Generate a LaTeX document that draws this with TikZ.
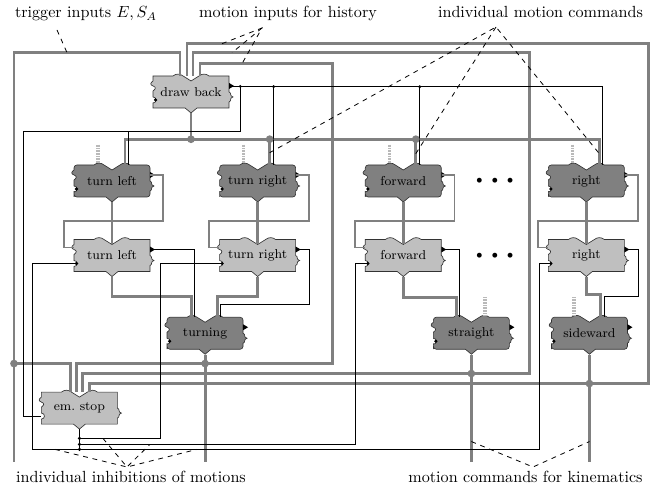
\documentclass[tikz,border=0pt]{standalone}
\usepackage{tikz}
\usetikzlibrary{positioning,calc,backgrounds}

\tikzset{
  pics/behmod/.style 2 args={code={
    \draw[draw=black!80, line width=0.4pt, fill=#1]
      (-38,-11) -- (-38,-13) [rounded corners=#2] -- (-38,-16) -- (-26,-16) [sharp corners]
      -- (-18,-16) .. controls (-15,-18.5) and (-11,-18.5) .. (-8,-16) -- (0,-11) -- (8,-16)
      .. controls (11,-18.5) and (15,-18.5) .. (18,-16) -- (26,-16) [rounded corners=#2]
      -- (38,-16) -- (38,-10) [sharp corners] -- (38,0)
      .. controls (41,1) and (38,4) .. (42,5) .. controls (38,6) and (41,9) .. (38,10)
      -- (38,12) [rounded corners=#2] -- (38,16) -- (26,16) [sharp corners]
      -- (6,16) -- (0,21) -- (-6,16) -- (-26,16) [rounded corners=#2] -- (-38,16) -- (-38,13) [sharp corners]
      -- (-38,11) .. controls (-34,11) and (-34,5) .. (-38,5) -- (-38,-1)
      .. controls (-35,-3) and (-35,-5) .. (-38,-6) .. controls (-41,-7) and (-41,-9) .. (-38,-11) -- cycle;
  }},
  pics/behports/.style={code={
    \fill (38,-9) -- (43,-6) -- (38,-3) -- cycle;
    \fill (-35.5,8) circle (1.1pt);
  }}
}

\begin{document}
\begin{tikzpicture}[x=0.62pt, y=-0.62pt,
  node distance=26pt and 42.8pt,
  module/.style={minimum width=47.1pt, minimum height=19.8pt, inner sep=0pt, font=\footnotesize},
  lbl/.style={anchor=base, inner sep=0pt},
  motion/.style={draw=gray, line width=1.8pt},
  stim/.style={draw=gray, line width=1.1pt},
  inh/.style={draw=black, line width=0.5pt},
  hatch/.style={draw=gray!55, line width=2.2pt, dash pattern=on 0.5pt off 0.5pt},
  note/.style={draw=black, dashed, line width=0.5pt},
  joint/.style={fill=gray}]
  \useasboundingbox (0,0) rectangle (663,489);

  \node[module] (tlD) at (112,181) {turn left};
  \node[module, right=of tlD] (trD) {turn right};
  \node[module, right=of trD] (fwD) {forward};
  \node[module, right=66pt of fwD] (rtD) {right};
  \node[module, below=of tlD] (tlL) {turn left};
  \node[module, below=of trD] (trL) {turn right};
  \node[module, below=of fwD] (fwL) {forward};
  \node[module, below=of rtD] (rtL) {right};
  \node[module, above=35pt of tlD, xshift=49pt] (back) {draw back};
  \node[module, below=28pt of tlL, xshift=57.7pt] (turnD) {turning};
  \node[module, below=28pt of fwL, xshift=42.2pt] (strD) {straight};
  \node[module, below=28pt of rtL, xshift=1.9pt] (sideD) {sideward};
  \node[module, below=74.4pt of tlL, xshift=-20.2pt] (stop) {em.\ stop};
  \node[font=\scriptsize] (dotsD) at ($(fwD)!0.5!(rtD)$) {$\bullet\mkern8mu\bullet\mkern8mu\bullet$};
  \node[font=\scriptsize] (dotsL) at ($(fwL)!0.5!(rtL)$) {$\bullet\mkern8mu\bullet\mkern8mu\bullet$};

  \begin{scope}[on background layer]
    \pic at (tlD) {behmod={gray}{1.8pt}};   \pic at (tlD) {behports};
    \pic at (trD) {behmod={gray}{1.8pt}};   \pic at (trD) {behports};
    \pic at (fwD) {behmod={gray}{1.8pt}};   \pic at (fwD) {behports};
    \pic at (rtD) {behmod={gray}{1.8pt}};   \pic at (rtD) {behports};
    \pic at (turnD) {behmod={gray}{1.8pt}}; \pic at (turnD) {behports};
    \pic at (strD) {behmod={gray}{1.8pt}};  \pic at (strD) {behports};
    \pic at (sideD) {behmod={gray}{1.8pt}}; \pic at (sideD) {behports};
    \pic at (back) {behmod={gray!50}{0pt}}; \pic at (back) {behports};
    \pic at (tlL) {behmod={gray!50}{0pt}};  \pic at (tlL) {behports};
    \pic at (trL) {behmod={gray!50}{0pt}};  \pic at (trL) {behports};
    \pic at (fwL) {behmod={gray!50}{0pt}};  \pic at (fwL) {behports};
    \pic at (rtL) {behmod={gray!50}{0pt}};  \pic at (rtL) {behports};
    \pic at (stop) {behmod={gray!50}{0pt}};
  \end{scope}

  \coordinate (backJ) at ($(back.south)+(0,31)$);
  \coordinate (turnJ) at ($(turnD.south)+(0,14)$);
  \coordinate (strJ) at ($(strD.south)+(0,24)$);
  \coordinate (sideJ) at ($(sideD.south)+(0,34)$);
  \coordinate (actJ) at ($(back.east)+(11,-5.5)$);
  \coordinate (trigOut) at (14,462);

  % dark to light modules
  \draw[stim] ($(tlD.east)+(0,-6)$) -- ++(13,0) -- ++(0,46) -| ($(tlL.west)+(-10,-8)$) -- ($(tlL.west)+(0,-8)$);
  \draw[stim] ($(trD.east)+(0,-6)$) -- ++(13,0) -- ++(0,46) -| ($(trL.west)+(-10,-8)$) -- ($(trL.west)+(0,-8)$);
  \draw[stim] ($(fwD.east)+(0,-6)$) -- ++(13,0) -- ++(0,46) -| ($(fwL.west)+(-10,-8)$) -- ($(fwL.west)+(0,-8)$);
  \draw[stim] ($(rtD.east)+(0,-6)$) -- ++(13,0) -- ++(0,46) -| ($(rtL.west)+(-10,-8)$) -- ($(rtL.west)+(0,-8)$);
  \draw[motion] ($(tlD.south)+(0,5)$) -- ($(tlL.north)+(0,5)$);
  \draw[motion] ($(trD.south)+(0,5)$) -- ($(trL.north)+(0,5)$);
  \draw[motion] ($(fwD.south)+(0,5)$) -- ($(fwL.north)+(0,5)$);
  \draw[motion] ($(rtD.south)+(0,5)$) -- ($(rtL.north)+(0,5)$);

  % trigger and history inputs
  \draw[motion] ($(back.north)+(-11,0)$) -- ++(0,-23) -| (trigOut);
  \draw[motion] (trigOut |- turnJ) -| ($(stop.north)+(-8.5,0)$);
  \draw[motion] ($(turnD.south)+(0,5)$) -- (turnJ |- trigOut);
  \draw[motion] ($(strD.south)+(0,5)$) -- (strJ |- trigOut);
  \draw[motion] ($(sideD.south)+(0,5)$) -- (sideJ |- trigOut);
  \draw[motion] ($(stop.north)+(-2.5,0)$) |- (turnJ) -- ++(127,0) |- ($(back.north)+(9,-12)$) -- ($(back.north)+(9,0)$);
  \draw[motion] ($(stop.north)+(3.5,0)$) |- (strJ) -- ++(58,0) |- ($(back.north)+(2,-23)$) -- ($(back.north)+(2,0)$);
  \draw[motion] ($(stop.north)+(10.5,0)$) |- (sideJ) -- ++(59,0) |- ($(back.north)+(-4,-32)$) -- ($(back.north)+(-4,0)$);

  % draw back outputs
  \draw[motion] ($(back.south)+(0,5)$) -- (backJ);
  \draw[motion] ($(tlD.north)+(13,0)$) |- (backJ) -| ($(rtD.north)+(13,0)$);
  \draw[motion] ($(trD.north)+(12,0)$) -- ++(0,-25.5);
  \draw[motion] ($(fwD.north)+(12.5,0)$) -- ++(0,-25.5);
  \draw[inh] ($(back.east)+(0,-5.5)$) -| ($(rtD.north)+(16,0)$);
  \draw[inh] ($(trD.north)+(16,0)$) -- ++(0,-78);
  \draw[inh] ($(fwD.north)+(16.5,0)$) -- ++(0,-78);
  \draw[inh] (actJ) -- ++(0,45) -| ($(tlD.north)+(16,0)$);
  \draw[inh] ($(tlD.north)+(16,-33)$) -- ++(-105,0) |- ($(stop.west)+(0,8)$);

  % light modules to fusion
  \draw[motion] ($(tlL.south)+(0,5)$) -- ++(0,20) -| ($(turnD.north)+(-14,0)$);
  \draw[motion] ($(trL.south)+(0,5)$) -- ++(0,20) -| ($(turnD.north)+(12,0)$);
  \draw[inh] ($(tlL.east)+(0,-6)$) -| ($(turnD.north)+(-11,0)$);
  \draw[inh] ($(trL.east)+(0,-6)$) -- ++(13,0) -- ++(0,55) -| ($(turnD.north)+(15,0)$);
  \draw[motion] ($(fwL.south)+(0,5)$) -- ++(0,21) -| ($(strD.north)+(-14.5,0)$);
  \draw[inh] ($(fwL.east)+(0,-6)$) -| ($(strD.north)+(-11.5,0)$);
  \draw[motion] ($(rtL.south)+(0,5)$) -- ++(0,18) -| ($(sideD.north)+(11,0)$);
  \draw[inh] ($(rtL.east)+(0,-6)$) -- ++(14,0) -- ++(0,47) -| ($(sideD.north)+(15,0)$);

  % external inputs
  \draw[hatch] ($(tlD.north)+(-14,-20)$) -- ($(tlD.north)+(-14,-1)$);
  \draw[hatch] ($(trD.north)+(-14,-20)$) -- ($(trD.north)+(-14,-1)$);
  \draw[hatch] ($(fwD.north)+(-14,-20)$) -- ($(fwD.north)+(-14,-1)$);
  \draw[hatch] ($(rtD.north)+(-14,-20)$) -- ($(rtD.north)+(-14,-1)$);
  \draw[hatch] ($(strD.north)+(13.5,-20)$) -- ($(strD.north)+(13.5,-1)$);
  \draw[hatch] ($(sideD.north)+(-15.5,-20)$) -- ($(sideD.north)+(-15.5,-1)$);

  % emergency stop inhibitions
  \draw[inh] ($(stop.south)+(0,5)$) -- ($(stop.south)+(0,25)$);
  \draw[inh] ($(stop.south)+(0,14)$) -| ($(trL.west)+(-59,8)$) -- ($(trL.west)+(3,8)$);
  \draw[inh] ($(stop.south)+(0,20)$) -| ($(fwL.west)+(-10,8)$) -- ($(fwL.west)+(3,8)$);
  \draw[inh] ($(tlL.west)+(3,8)$) -- ++(-44,0) |- ($(stop.south)+(0,25)$) -| ($(rtL.west)+(-9,8)$) -- ($(rtL.west)+(3,8)$);
  \fill ($(stop.south)+(0,14)$) circle (1.1pt);
  \fill ($(stop.south)+(0,20)$) circle (1.1pt);
  \fill ($(stop.south)+(0,25)$) circle (1.1pt);

  \fill[joint] (backJ) circle (2.4pt);
  \fill[joint] ($(trD.north)+(12,-25.5)$) circle (2.4pt);
  \fill[joint] ($(fwD.north)+(12.5,-25.5)$) circle (2.4pt);
  \fill[joint] (turnJ) circle (2.4pt);
  \fill[joint] (strJ) circle (2.4pt);
  \fill[joint] (sideJ) circle (2.4pt);
  \fill[joint] (trigOut |- turnJ) circle (2.4pt);
  \fill (actJ) circle (1pt);
  \fill ($(trD.north)+(16,-78)$) circle (1pt);
  \fill ($(fwD.north)+(16.5,-78)$) circle (1pt);

  % annotations
  \node[lbl] (trigLbl) at (86,18) {trigger inputs $E,S_A$};
  \node[lbl] (histLbl) at (288,18) {motion inputs for history};
  \node[lbl] (cmdLbl) at (540.5,18) {individual motion commands};
  \node[lbl] (inhLbl) at (131,483) {individual inhibitions of motions};
  \node[lbl] (kinLbl) at (525.5,483) {motion commands for kinematics};
  \coordinate (trigTip) at (57,30);
  \coordinate (histTip) at (262,28);
  \coordinate (cmdTip) at (496,27);
  \coordinate (inhTip) at (127,467);
  \coordinate (kinTip) at (533,467);
  \draw[note] (trigTip) -- ($(back.north)+(-124,-23)$);
  \draw[note] ($(back.north)+(31,-32)$) -- (histTip) -- ($(back.north)+(51,-12)$);
  \draw[note] (histTip) -- ($(back.north)+(41,-23)$);
  \draw[note] ($(trD.north)+(12,-12)$) -- (cmdTip) -- ($(rtD.north)+(13,-11)$);
  \draw[note] (cmdTip) -- ($(fwD.north)+(12.5,-11)$);
  \draw[note] ($(stop.south)+(-24.5,25)$) -- (inhTip) -- ($(stop.south)+(117.5,25)$);
  \draw[note] ($(stop.south)+(23.5,14)$) -- (inhTip) -- ($(stop.south)+(70.5,20)$);
  \draw[note] ($(strJ)+(0,68)$) -- (kinTip) -- ($(sideJ)+(0,58)$);
\end{tikzpicture}
\end{document}
